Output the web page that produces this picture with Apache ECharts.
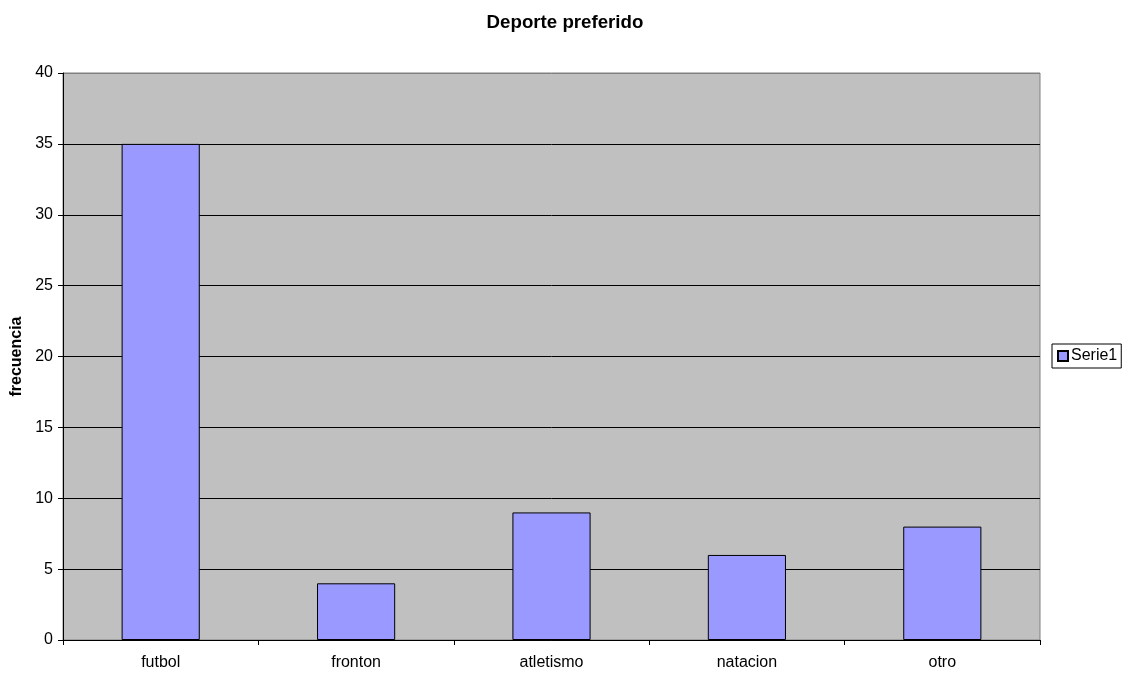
<!DOCTYPE html>
<html>
<head>
<meta charset="utf-8">
<script src="https://cdn.jsdelivr.net/npm/echarts@6/dist/echarts.min.js"></script>
<style>
  html, body { margin: 0; padding: 0; background: #fff; }
  #chart { width: 1127px; height: 675px; }
</style>
</head>
<body>
<div id="chart"></div>
<script>
  var categories = ['futbol', 'fronton', 'atletismo', 'natacion', 'otro'];
  var serie1 = [35, 4, 9, 6, 8];

  var chart = echarts.init(document.getElementById('chart'));
  chart.setOption({
    animation: false,
    textStyle: { fontFamily: 'Liberation Sans, Arial, sans-serif' },
    title: {
      text: 'Deporte preferido',
      left: 560,
      textAlign: 'center',
      top: 8,
      textStyle: { fontSize: 18.7, fontWeight: 'bold', color: '#000' }
    },
    legend: {
      left: 1052,
      top: 344,
      orient: 'vertical',
      data: ['Serie1'],
      icon: 'rect',
      itemWidth: 10,
      itemHeight: 10,
      itemGap: 0,
      padding: [4, 4, 4, 5],
      borderColor: '#000',
      borderWidth: 1,
      textStyle: { fontSize: 16, color: '#000', padding: [0, 0, 0, -2] }
    },
    grid: {
      left: 63,
      right: 87,
      top: 73,
      bottom: 35,
      outerBoundsMode: 'none',
      show: true,
      backgroundColor: '#C0C0C0',
      borderColor: '#808080',
      borderWidth: 1
    },
    xAxis: {
      type: 'category',
      data: categories,
      axisLine: { lineStyle: { color: '#000' } },
      axisTick: { show: true, length: 5, lineStyle: { color: '#000' } },
      axisLabel: { color: '#000', fontSize: 16, margin: 15 }
    },
    yAxis: {
      type: 'value',
      min: 0,
      max: 40,
      interval: 5,
      name: 'frecuencia',
      nameLocation: 'middle',
      nameRotate: 90,
      nameGap: 36,
      nameTextStyle: { fontSize: 16, fontWeight: 'bold', color: '#000' },
      axisLine: { show: true, lineStyle: { color: '#000' } },
      axisTick: { show: true, length: 5, lineStyle: { color: '#000' } },
      axisLabel: { color: '#000', fontSize: 16, margin: 10 },
      splitLine: {
        lineStyle: {
          color: ['#000', '#000', '#000', '#000', '#000', '#000', '#000', '#000', '#808080'],
          width: 1
        }
      }
    },
    series: [
      {
        name: 'Serie1',
        type: 'bar',
        data: serie1,
        barCategoryGap: '60%',
        itemStyle: { color: '#9999FF', borderColor: '#000', borderWidth: 1 }
      }
    ]
  });
</script>
</body>
</html>
